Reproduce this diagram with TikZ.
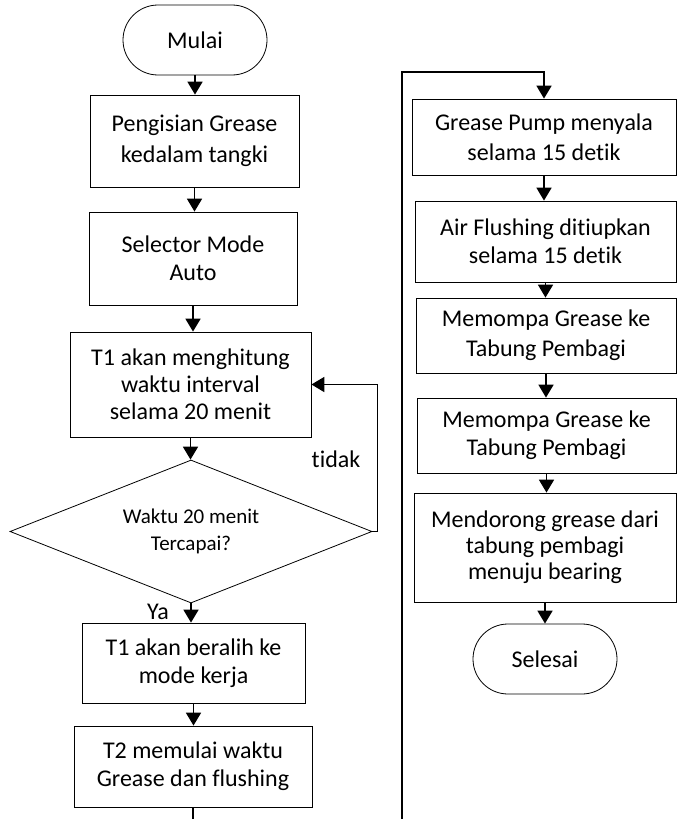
\documentclass[tikz,border=0pt]{standalone}
\usepackage{fontspec}
\setmainfont{Carlito}[Ligatures=NoCommon]
\usepackage{tikz}
\usetikzlibrary{shapes.geometric}
\usetikzlibrary{arrows.meta}

\begin{document}
\begin{tikzpicture}[
            x=1pt, y=-1pt,
            every node/.style={font=\fontsize{24}{28}\selectfont, align=center},
            proses/.style={rectangle,draw,line width=0.8pt,inner sep=0pt},
            terminal/.style={rectangle,rounded corners=35pt,draw,line width=0.8pt,minimum width=144pt,minimum height=70pt},
            keputusan/.style={diamond,draw,line width=0.8pt,inner sep=0pt,aspect=2.5,font=\fontsize{21}{27}\selectfont},
            panah/.style={line width=1.8pt,-{Triangle[length=13pt,width=15pt]}},
            ]
            \useasboundingbox (0,0) rectangle (677,819);
            \clip (0,0) rectangle (677,819);

            \node[terminal] (1) at (195,40) {Mulai};
            \node[proses, minimum width=209pt, minimum height=92pt, font=\fontsize{24}{31}\selectfont] (2) at (194.5,141) {Pengisian Grease\\kedalam tangki};
            \node[proses, minimum width=208pt, minimum height=93pt] (3) at (193,258.5) {Selector Mode\\Auto};
            \node[proses, minimum width=241pt, minimum height=105pt, font=\fontsize{24}{27}\selectfont] (4) at (190.5,384.5) {T1 akan menghitung\\waktu interval\\selama 20 menit};
            \node[keputusan, minimum width=362pt, minimum height=143pt] (5) at (191,531.5) {Waktu 20 menit\\Tercapai?};
            \node[proses, minimum width=223pt, minimum height=80pt] (6) at (193.5,663) {T1 akan beralih ke\\mode kerja};
            \node[proses, minimum width=238pt, minimum height=81pt] (7) at (193,766.5) {T2 memulai waktu\\Grease dan flushing};

            \node[proses, minimum width=264pt, minimum height=76pt, font=\fontsize{24}{30}\selectfont] (8) at (544,137) {Grease Pump menyala\\selama 15 detik};
            \node[proses, minimum width=261pt, minimum height=81pt] (9) at (545.5,241.5) {Air Flushing ditiupkan\\selama 15 detik};
            \node[proses, minimum width=260pt, minimum height=75pt, font=\fontsize{24}{30}\selectfont] (10) at (546,335.5) {Memompa Grease ke\\Tabung Pembagi};
            \node[proses, minimum width=259pt, minimum height=75pt] (11) at (546.5,435.5) {Memompa Grease ke\\Tabung Pembagi};
            \node[proses, minimum width=262pt, minimum height=109pt, font=\fontsize{24}{26}\selectfont] (12) at (545,547.5) {Mendorong grease dari\\tabung pembagi\\menuju bearing};
            \node[terminal] (13) at (545,659) {Selesai};

            \node (tidak) at (336,459) {tidak};
            \node (ya) at (158,612) {Ya};
            \coordinate (bawah) at (402,840);
            \coordinate (atas) at (402,72);

            \draw[panah] (1.south) -- (1.south |- 2.north);
            \draw[panah] (2.south) -- (2.south |- 3.north);
            \draw[panah] (3.south) -- (3.south |- 4.north);
            \draw[panah] (4.south) -- (4.south |- 5.north);
            \draw[panah] (5.south) -- (5.south |- 6.north);
            \draw[panah] (6.south) -- (6.south |- 7.north);
            \draw[panah] (5.east) -- ++(5,0) |- (4.east);
            \draw[panah] (7.south) |- (bawah) -- (atas) -| (8.north);
            \draw[panah] (8.south) -- (8.south |- 9.north);
            \draw[panah] (9.south) -- (9.south |- 10.north);
            \draw[panah] (10.south) -- (10.south |- 11.north);
            \draw[panah] (11.south) -- (11.south |- 12.north);
            \draw[panah] (12.south) -- (12.south |- 13.north);
        \end{tikzpicture}
\end{document}
